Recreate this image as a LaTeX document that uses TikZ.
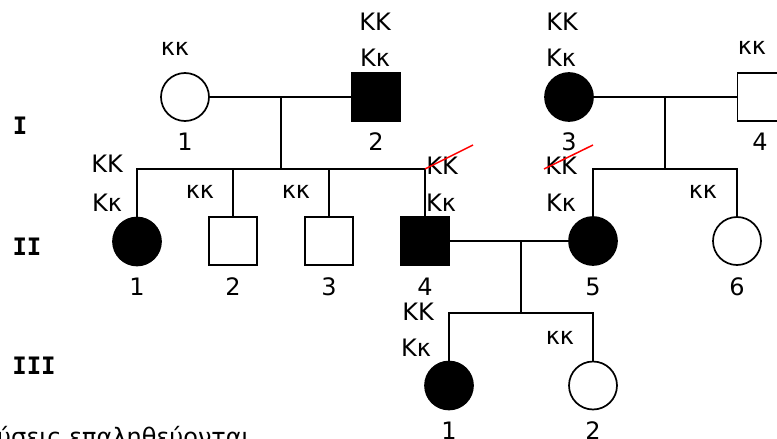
\documentclass[tikz,border=0pt]{standalone}
\usepackage{fontspec}
\setmainfont{DejaVu Sans}
\newfontfamily\romfont{DejaVu Sans Mono}
\begin{document}
\begin{tikzpicture}[x=1pt,y=-1pt,
  fem/.style={circle,draw,line width=1.7pt,minimum size=48pt,inner sep=0pt},
  mal/.style={rectangle,draw,line width=1.7pt,minimum size=48pt,inner sep=0pt},
  aff/.style={fill=black},
  lbl/.style={font=\fontsize{24}{24}\selectfont,inner sep=0pt},
  gen/.style={font=\romfont\bfseries\fontsize{24}{24}\selectfont,inner sep=0pt},
  link/.style={line width=1.7pt},
  strike/.style={red,line width=1.5pt}]
\clip (0,0) rectangle (777,439);
% generation labels
\node[gen] (gI) at (20,126) {I};
\node[gen] (gII) at (27,247) {II};
\node[gen] (gIII) at (34,366) {III};
% generation I
\node[fem] (I1) at (185,97) {};
\node[mal,aff] (I2) at (376,97) {};
\node[fem,aff] (I3) at (569,97) {};
\node[mal] (I4) at (761.5,97) {};
\node[lbl] (tI1) at (175,49) {κκ};
\node[lbl] (tI2a) at (375,22) {KK};
\node[lbl] (tI2b) at (375,58) {Kκ};
\node[lbl] (tI3a) at (562,22) {KK};
\node[lbl] (tI3b) at (561,58) {Kκ};
\node[lbl] (tI4) at (752,48) {κκ};
\node[lbl] (nI1) at (185,142) {1};
\node[lbl] (nI2) at (376,142) {2};
\node[lbl] (nI3) at (569,142) {3};
\node[lbl] (nI4) at (760,142) {4};
\coordinate (m1) at (281,97);
\coordinate (s1) at (281,169);
\coordinate (m2) at (665,97);
\coordinate (s2) at (665,169);
\draw[link] (I1) -- (I2);
\draw[link] (I3) -- (I4);
\draw[link] (m1) -- (s1);
\draw[link] (m2) -- (s2);
% generation II
\node[fem,aff] (II1) at (137,241.5) {};
\node[mal] (II2) at (233,241) {};
\node[mal] (II3) at (329,241) {};
\node[mal,aff] (II4) at (425,241) {};
\node[fem,aff] (II5) at (593,241) {};
\node[fem] (II6) at (737,241) {};
\draw[link] (II1.north) |- (s1) -| (II4.north);
\draw[link] (II2.north) -- (II2.north |- s1);
\draw[link] (II3.north) -- (II3.north |- s1);
\draw[link] (II5.north) |- (s2) -| (II6.north);
\draw[link] (II4) -- (II5);
\node[lbl] (tII1a) at (107,164) {KK};
\node[lbl] (tII1b) at (107,203) {Kκ};
\node[lbl] (tII2) at (200,192) {κκ};
\node[lbl] (tII3) at (296,192) {κκ};
\node[lbl] (tII4a) at (442,166) {KK};
\node[lbl] (tII4b) at (441,203) {Kκ};
\node[lbl] (tII5a) at (561,166) {KK};
\node[lbl] (tII5b) at (561,203) {Kκ};
\node[lbl] (tII6) at (703,192) {κκ};
\draw[strike] (425,169) -- (473,145);
\draw[strike] (544,169) -- (593,145);
\node[lbl] (nII1) at (137,287) {1};
\node[lbl] (nII2) at (233,287) {2};
\node[lbl] (nII3) at (329,287) {3};
\node[lbl] (nII4) at (425,287) {4};
\node[lbl] (nII5) at (593,287) {5};
\node[lbl] (nII6) at (737,287) {6};
\coordinate (m3) at (521,241);
\coordinate (s3) at (521,313);
\draw[link] (m3) -- (s3);
% generation III
\node[fem,aff] (III1) at (449,385.5) {};
\node[fem] (III2) at (593,385.5) {};
\draw[link] (III1.north) |- (s3) -| (III2.north);
\node[lbl] (tIII1a) at (418,312) {KK};
\node[lbl] (tIII1b) at (416,348) {Kκ};
\node[lbl] (tIII2) at (560,338) {κκ};
\node[lbl] (nIII1) at (449,431) {1};
\node[lbl] (nIII2) at (593,431) {2};
% bottom text
\node[lbl,anchor=base west] (note) at (-3,445) {ύσεις επαληθεύονται};
\end{tikzpicture}
\end{document}
